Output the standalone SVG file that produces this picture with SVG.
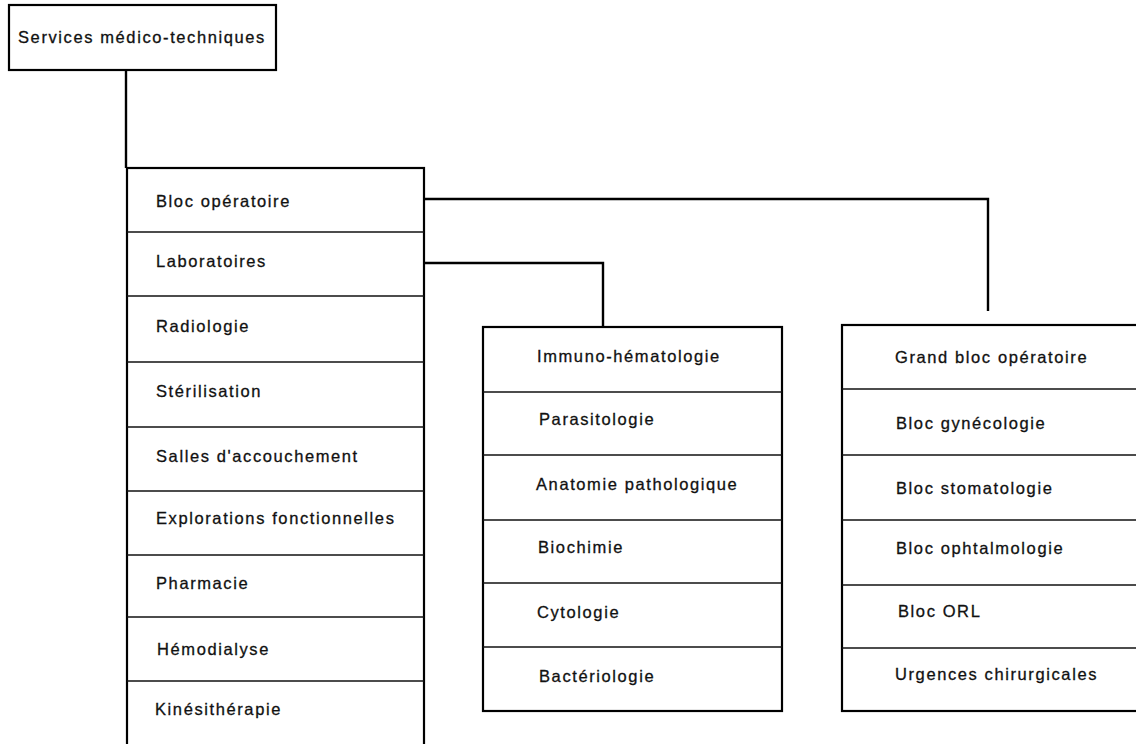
<svg xmlns="http://www.w3.org/2000/svg" width="1136" height="744" viewBox="0 0 1136 744">
<style>
  .box{fill:#fff;stroke:#000;stroke-width:2.2}
  .div{stroke:#111;stroke-width:1.3}
  .conn{fill:none;stroke:#000;stroke-width:2.4}
  text{font-family:"Liberation Sans",Arial,sans-serif;font-size:16.5px;letter-spacing:1.6px;fill:#111;stroke:#111;stroke-width:0.3}
</style>
<rect width="1136" height="744" fill="#fff"/>
<g id="connectors">
  <path class="conn" d="M126 70 V168"/>
  <path class="conn" d="M424 199 H988 V311"/>
  <path class="conn" d="M424 263 H603 V327"/>
</g>
<g id="root">
  <rect class="box" x="9" y="5" width="267" height="65"/>
  <text x="18" y="43">Services médico-techniques</text>
</g>
<g id="services">
  <rect class="box" x="127" y="168" width="297" height="590"/>
  <line class="div" x1="127" y1="232" x2="424" y2="232"/>
  <line class="div" x1="127" y1="296" x2="424" y2="296"/>
  <line class="div" x1="127" y1="362" x2="424" y2="362"/>
  <line class="div" x1="127" y1="427" x2="424" y2="427"/>
  <line class="div" x1="127" y1="491" x2="424" y2="491"/>
  <line class="div" x1="127" y1="555" x2="424" y2="555"/>
  <line class="div" x1="127" y1="617" x2="424" y2="617"/>
  <line class="div" x1="127" y1="681" x2="424" y2="681"/>
  <text x="156" y="207">Bloc opératoire</text>
  <text x="156" y="267">Laboratoires</text>
  <text x="156" y="332">Radiologie</text>
  <text x="156" y="397">Stérilisation</text>
  <text x="156" y="462">Salles d'accouchement</text>
  <text x="156" y="524">Explorations fonctionnelles</text>
  <text x="156" y="589">Pharmacie</text>
  <text x="157" y="655">Hémodialyse</text>
  <text x="155" y="715">Kinésithérapie</text>
</g>
<g id="laboratoires">
  <rect class="box" x="483" y="327" width="299" height="384"/>
  <line class="div" x1="483" y1="392" x2="782" y2="392"/>
  <line class="div" x1="483" y1="455" x2="782" y2="455"/>
  <line class="div" x1="483" y1="520" x2="782" y2="520"/>
  <line class="div" x1="483" y1="583" x2="782" y2="583"/>
  <line class="div" x1="483" y1="647" x2="782" y2="647"/>
  <text x="537" y="362">Immuno-hématologie</text>
  <text x="539" y="425">Parasitologie</text>
  <text x="536" y="490">Anatomie pathologique</text>
  <text x="538" y="553">Biochimie</text>
  <text x="537" y="618">Cytologie</text>
  <text x="539" y="682">Bactériologie</text>
</g>
<g id="bloc-operatoire">
  <rect class="box" x="842" y="325" width="300" height="386"/>
  <line class="div" x1="842" y1="389" x2="1136" y2="389"/>
  <line class="div" x1="842" y1="455" x2="1136" y2="455"/>
  <line class="div" x1="842" y1="520" x2="1136" y2="520"/>
  <line class="div" x1="842" y1="585" x2="1136" y2="585"/>
  <line class="div" x1="842" y1="648" x2="1136" y2="648"/>
  <text x="895" y="363">Grand bloc opératoire</text>
  <text x="896" y="429">Bloc gynécologie</text>
  <text x="896" y="494">Bloc stomatologie</text>
  <text x="896" y="554">Bloc ophtalmologie</text>
  <text x="898" y="617">Bloc ORL</text>
  <text x="895" y="680">Urgences chirurgicales</text>
</g>
</svg>
